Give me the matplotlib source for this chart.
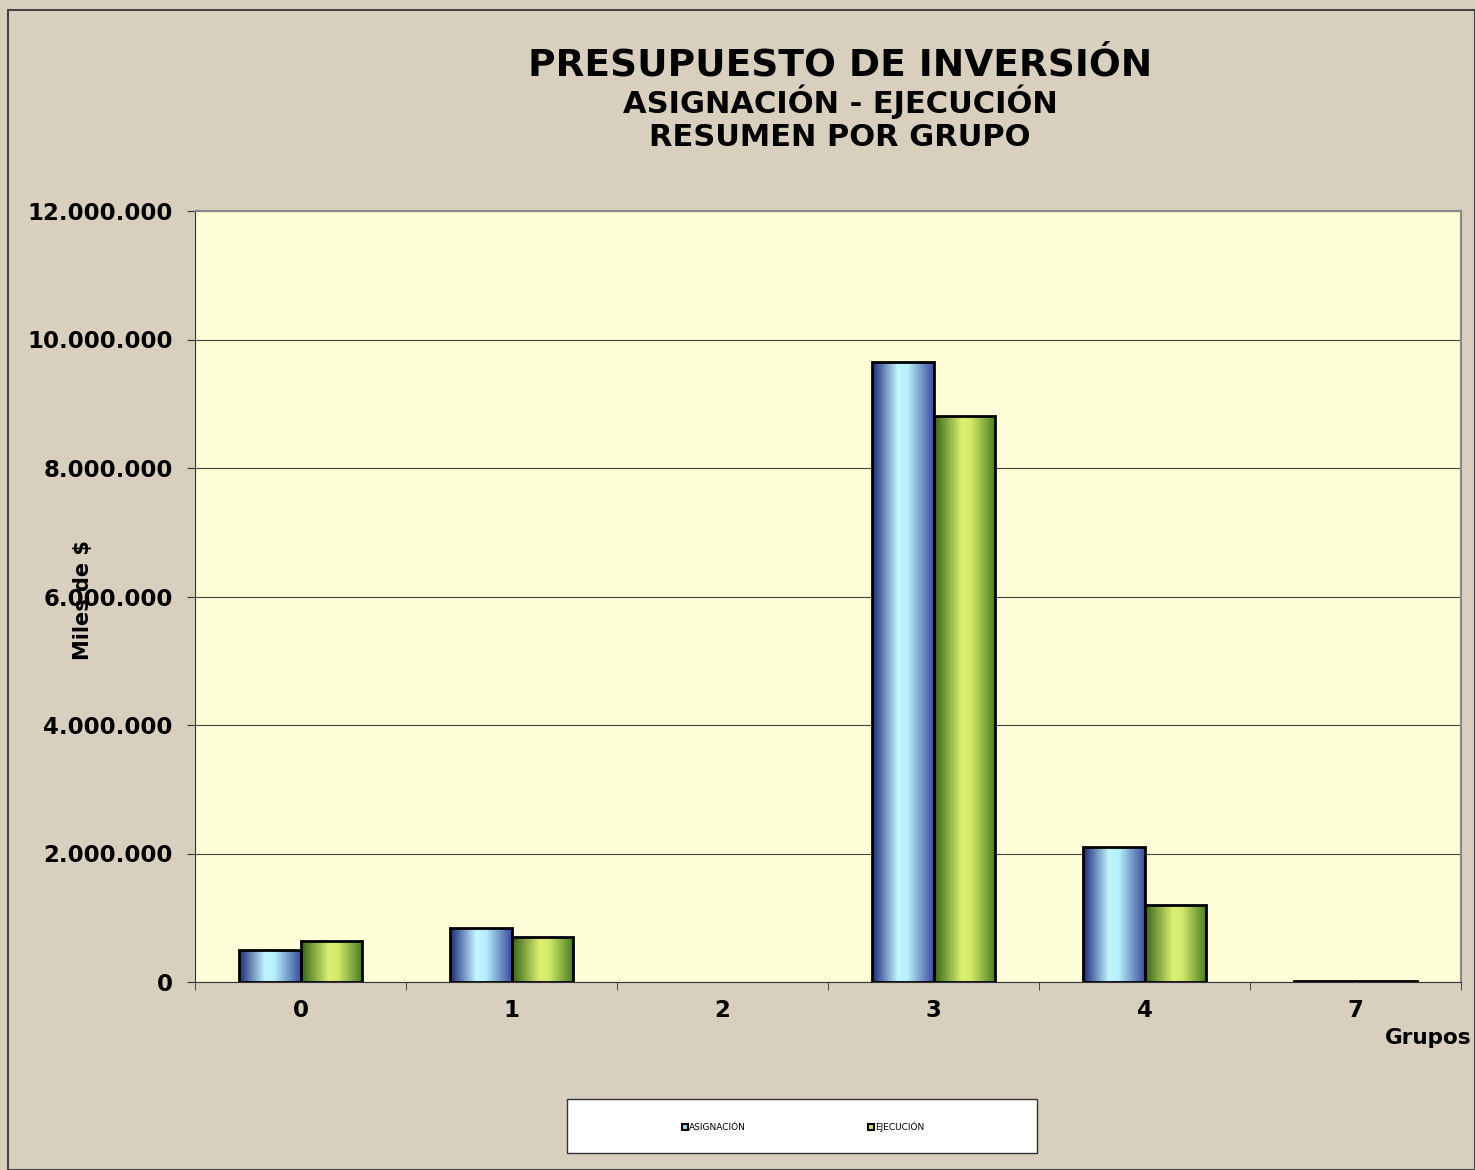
import numpy as np
import matplotlib.pyplot as plt
from matplotlib.colors import LinearSegmentedColormap
from matplotlib.patches import Rectangle
from matplotlib.ticker import FuncFormatter, FixedLocator

# datos (miles de $)
grupos = ["0", "1", "2", "3", "4", "7"]
asignacion = [500000, 840000, 0, 9650000, 2100000, 12000]
ejecucion = [640000, 700000, 0, 8810000, 1200000, 10000]

fondo = "#d9cfbf"
fig = plt.figure(figsize=(14.75, 11.70), dpi=100, facecolor=fondo)
ax = fig.add_axes([195 / 1475, 1 - 982 / 1170, (1461 - 195) / 1475, (982 - 211) / 1170])
ax.set_facecolor("#fefed8")

# gradientes tipo Excel
cmap_azul = LinearSegmentedColormap.from_list(
    "azul", [(0, "#1a2678"), (0.42, "#c2f6ff"), (0.58, "#b6eefb"), (1, "#3a4c9c")])
cmap_verde = LinearSegmentedColormap.from_list(
    "verde", [(0, "#346414"), (0.45, "#dcf072"), (0.6, "#d2ea6a"), (1, "#467a1e")])

x = np.arange(len(grupos))
w = 0.29
bars1 = ax.bar(x - w / 2, asignacion, w, facecolor="none", edgecolor="black", lw=2, zorder=3)
bars2 = ax.bar(x + w / 2, ejecucion, w, facecolor="none", edgecolor="black", lw=2, zorder=3)

grad = np.linspace(0, 1, 256).reshape(1, -1)
for bars, cm in ((bars1, cmap_azul), (bars2, cmap_verde)):
    for b in bars:
        h = b.get_height()
        if h <= 0:
            b.set_visible(False)
            continue
        x0 = b.get_x()
        im = ax.imshow(grad, extent=[x0, x0 + b.get_width(), 0, h], aspect="auto",
                       cmap=cm, zorder=2, interpolation="bicubic")
        im.set_clip_path(b)

ax.set_xlim(-0.5, len(grupos) - 0.5)
ax.set_ylim(0, 12000000)
ax.set_yticks(np.arange(0, 12000001, 2000000))
ax.yaxis.set_major_formatter(FuncFormatter(lambda v, p: f"{int(v):,}".replace(",", ".")))
ax.grid(axis="y", color="#444444", lw=0.8, zorder=1)
ax.set_axisbelow(True)

ax.set_xticks(x)
ax.set_xticklabels(grupos)
ax.xaxis.set_minor_locator(FixedLocator(np.arange(-0.5, len(grupos), 1)))
ax.tick_params(axis="x", which="major", length=0, pad=12)
ax.tick_params(axis="x", which="minor", length=6, color="#333333")
ax.tick_params(axis="y", length=6, color="#333333", pad=10)
for lab in ax.get_xticklabels() + ax.get_yticklabels():
    lab.set_fontsize(16.5)
    lab.set_fontweight("bold")

for s in ("top", "right"):
    ax.spines[s].set_color("#888888")
    ax.spines[s].set_linewidth(1.5)
ax.spines["left"].set_color("#333333")
ax.spines["bottom"].set_color("#333333")

# titulos
fig.text(840 / 1475, 1 - 66 / 1170, "PRESUPUESTO DE INVERSIÓN", ha="center", va="center",
         fontsize=27, fontweight="bold")
fig.text(840 / 1475, 1 - 102 / 1170, "ASIGNACIÓN - EJECUCIÓN", ha="center", va="center",
         fontsize=22, fontweight="bold")
fig.text(840 / 1475, 1 - 137 / 1170, "RESUMEN POR GRUPO", ha="center", va="center",
         fontsize=22, fontweight="bold")
fig.text(83 / 1475, 1 - 600 / 1170, "Miles de $", rotation=90, ha="center", va="center",
         fontsize=15, fontweight="bold")
fig.text(1471 / 1475, 1 - 1038 / 1170, "Grupos", ha="right", va="center",
         fontsize=15.5, fontweight="bold")

# borde de la figura
fig.patches.append(Rectangle((8 / 1475, 0), 1 - 8 / 1475, 1 - 10 / 1170, transform=fig.transFigure,
                             fill=False, edgecolor="#444444", lw=1.5))

# leyenda
fig.patches.append(Rectangle((567 / 1475, 1 - 1153 / 1170), 470 / 1475, 54 / 1170,
                             transform=fig.transFigure, facecolor="white",
                             edgecolor="#333333", lw=1, zorder=5))
h1 = Rectangle((0, 0), 1, 1, facecolor="#9fd8f0", edgecolor="black", lw=1.5)
h2 = Rectangle((0, 0), 1, 1, facecolor="#d0e860", edgecolor="black", lw=1.5)
leg = fig.legend([h1, h2], ["ASIGNACIÓN", "EJECUCIÓN"], loc="center",
                 bbox_to_anchor=(803 / 1475, 1 - 1127 / 1170), ncol=2, frameon=False,
                 fontsize=6.5, handlelength=0.7, handleheight=0.7, handletextpad=0.1,
                 columnspacing=13.5)
leg.set_zorder(6)

fig.savefig("out.png", dpi=100, facecolor=fondo)
